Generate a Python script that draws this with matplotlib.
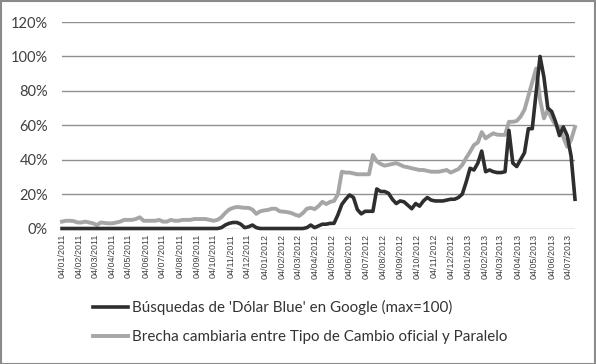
import matplotlib
matplotlib.use("Agg")
import matplotlib.pyplot as plt
from matplotlib.patches import Rectangle
import pandas as pd

# Weekly observations starting 04/01/2011
start_date = "2011-01-04"
n_weeks = 133

busquedas = [
    0, 0, 0, 0, 0, 0, 0, 0, 0, 0,
    0, 0, 0, 0, 0, 0, 0, 0, 0, 0,
    0, 0, 0, 0, 0, 0, 0, 0, 0, 0,
    0, 0, 0, 0, 0, 0, 0, 0, 0, 0,
    0, 0.5, 2, 3, 3.5, 3.5, 2.5, 0.5, 1, 2,
    0.5, 0, 0, 0, 0, 0, 0, 0, 0, 0,
    0, 0, 0, 0.5, 2, 0.5, 1.5, 2.5, 2.5, 3,
    3, 8, 14, 17, 19.5, 18, 11, 8.5, 10, 10,
    10, 23, 21.5, 21.5, 20.5, 17, 14.5, 16, 15.5, 13.5,
    11.5, 14.5, 13, 16, 18, 16.5, 16, 16, 16, 16.5,
    17, 17, 18, 20, 27, 35, 34, 38, 45, 33,
    34, 33, 32.5, 32.5, 33, 57, 38, 36, 40, 44,
    58, 58, 79, 100, 88, 70, 68, 62, 54, 59,
    54, 42, 17,
]

brecha = [
    4, 4.5, 4.5, 4.3, 3.5, 3.5, 4, 3.5, 3, 2,
    3.5, 3.2, 3, 3, 3.5, 4, 5, 5, 5, 5.5,
    6.5, 4.5, 4.5, 4.5, 4.5, 5, 4, 4, 5, 4.5,
    4.5, 5, 5, 5, 5.5, 5.5, 5.5, 5.5, 5, 4.5,
    5, 6.5, 9, 11, 12, 12.5, 12.3, 12, 12, 11,
    8.5, 10, 10.5, 10.8, 11.5, 11.5, 10, 9.8, 9.5, 9,
    8, 7.3, 9, 11.5, 12, 11.3, 13, 15.5, 14.2, 15.5,
    16, 20, 33, 32.5, 32.5, 32, 31.5, 31.5, 31.5, 31.5,
    42.7, 39, 37.5, 36.5, 37, 37.5, 38, 37, 36, 35.6,
    35, 34.5, 34, 34, 33.5, 33, 33, 33, 33.5, 34,
    32.5, 33.5, 34.5, 37, 41, 44.6, 48.5, 50, 56, 52.4,
    54, 55.3, 54.5, 54.4, 54.4, 62, 62, 62.5, 65, 69,
    77, 85, 93, 75, 64, 69, 64, 60, 59, 53,
    47.5, 51.5, 59,
]

label_busquedas = "Búsquedas de 'Dólar Blue' en Google (max=100)"
label_brecha = "Brecha cambiaria entre Tipo de Cambio oficial y Paralelo"
y_ticks = [0, 20, 40, 60, 80, 100, 120]

dates = pd.date_range(start_date, periods=n_weeks, freq="7D")
month_ticks = pd.date_range("2011-01-04", "2013-07-04", freq=pd.DateOffset(months=1))

W, H = 596, 364
fig = plt.figure(figsize=(W / 100, H / 100), dpi=100)
fig.patch.set_facecolor("white")
ax = fig.add_axes([62 / W, 1 - 228.5 / H, (575 - 62) / W, (228.5 - 22) / H])

ax.plot(dates, brecha, color="#a6a6a6", lw=2.8, solid_joinstyle="round", clip_on=False, zorder=3,
        label=label_brecha)
ax.plot(dates, busquedas, color="#2e2e2e", lw=2.6, solid_joinstyle="round", clip_on=False, zorder=4,
        label=label_busquedas)

ax.set_ylim(0, 120)
ax.set_xlim(dates[0], dates[-1])
ax.set_yticks(y_ticks)
ax.set_yticklabels([f"{v}%" for v in y_ticks], fontsize=10.5, color="#404040", family="Lato")
ax.yaxis.grid(True, color="#8f8f8f", lw=1.0)
ax.set_axisbelow(True)
for s in ax.spines.values():
    s.set_visible(False)

ax.set_xticks(month_ticks)
ax.set_xticklabels([d.strftime("%d/%m/%Y") for d in month_ticks], rotation=90,
                   fontsize=6.4, color="#404040", family="Liberation Sans")
ax.tick_params(axis="both", length=0)
ax.tick_params(axis="y", pad=10)
ax.tick_params(axis="x", pad=4)

handles, labels = ax.get_legend_handles_labels()
leg = fig.legend(handles[::-1], labels[::-1], loc="upper left",
                 bbox_to_anchor=(93 / W, 1 - 300 / H), frameon=False,
                 prop={"family": "Lato", "size": 10.9}, handlelength=2.3,
                 handletextpad=0.25, labelspacing=0.98, borderpad=0, borderaxespad=0)
for t in leg.get_texts():
    t.set_color("#333333")

fig.patches.append(Rectangle((0.5 / W, 0.5 / H), 1 - 1.5 / W, 1 - 1.5 / H, transform=fig.transFigure,
                             fill=False, edgecolor="#8a8a8a", lw=1.5))

fig.savefig("out.png", dpi=100)
